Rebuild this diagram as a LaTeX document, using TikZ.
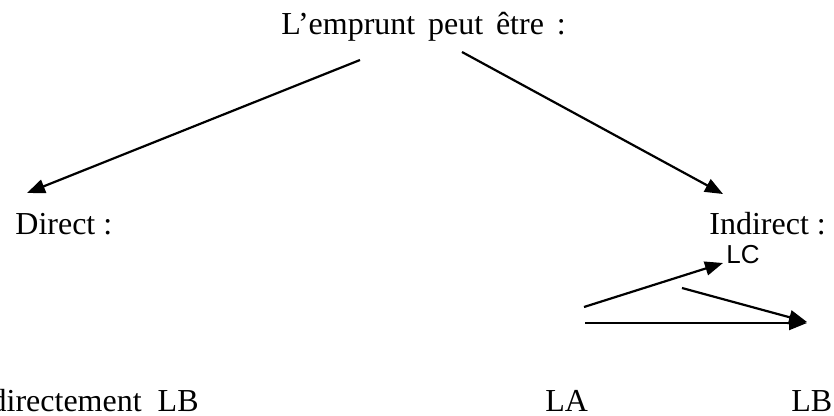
\documentclass[tikz,border=0pt]{standalone}
\usepackage{fontspec}
\setmainfont{Liberation Serif}
\newfontfamily\lcfont{Liberation Sans}
\usetikzlibrary{arrows.meta}
\tikzset{
  lbl/.style={inner sep=0pt, anchor=base west, font=\fontsize{16pt}{19pt}\selectfont},
  lblsans/.style={inner sep=0pt, anchor=base west, font=\lcfont\fontsize{13pt}{15pt}\selectfont},
  arr/.style={line width=1.1pt, -{Triangle[length=9pt,width=7pt]}}
}
\begin{document}
\begin{tikzpicture}[x=0.5pt,y=-0.5pt]
\useasboundingbox (0,0) rectangle (834,416);
% texts
\node[lbl] (title) at (281,35) {L’emprunt\hspace{0.4em}peut\hspace{0.4em}être\hspace{0.4em}:};
\node[lbl] (direct) at (15,235) {Direct\hspace{0.25em}:};
\node[lbl] (indirect) at (709,235) {Indirect\hspace{0.25em}:};
\node[lblsans] (lc) at (726,264) {LC};
\node[lbl, anchor=base east] (dirlb) at (199,411) {directement~~LB};
\node[lbl] (la) at (545,411) {LA};
\node[lbl] (lb) at (791,411) {LB};
% connector end points
\coordinate (t1) at (360,60);
\coordinate (d1) at (27,193);
\coordinate (t2) at (462,52);
\coordinate (i2) at (723,194);
\coordinate (s1) at (584,307);
\coordinate (c1) at (723,263);
\coordinate (s2) at (682,288);
\coordinate (e2) at (807,322);
\coordinate (s3) at (585,323);
\coordinate (e3) at (807,323);
\draw[arr] (t1) -- (d1);
\draw[arr] (t2) -- (i2);
\draw[arr] (s1) -- (c1);
\draw[arr] (s2) -- (e2);
\draw[arr] (s3) -- (e3);
\end{tikzpicture}
\end{document}
